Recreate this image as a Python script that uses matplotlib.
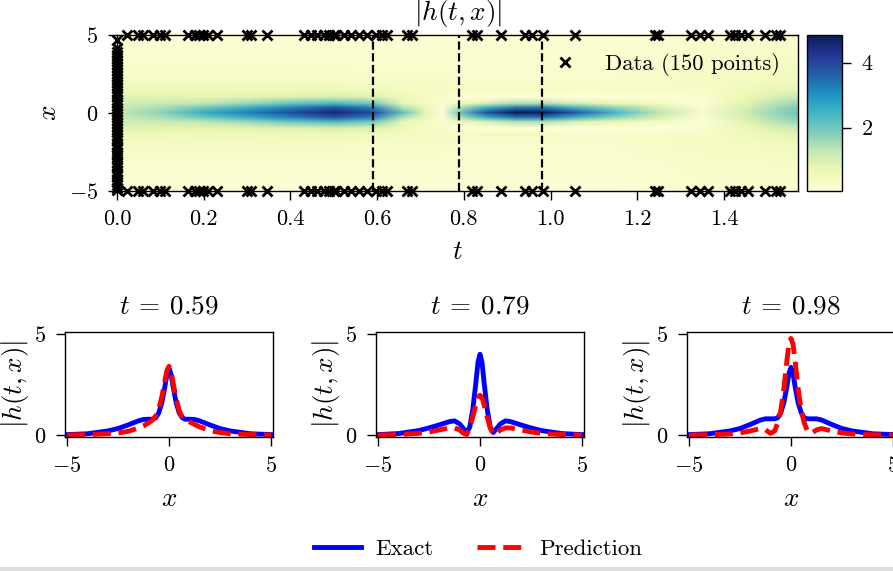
import numpy as np
import matplotlib
matplotlib.use('Agg')
import matplotlib.pyplot as plt
from matplotlib.image import NonUniformImage
from matplotlib.patches import Rectangle
from matplotlib.colors import Normalize

TICK = 16
LAB = 19.5

plt.rcParams.update({
    'font.family': 'serif',
    'font.serif': ['cmr10'],
    'mathtext.fontset': 'cm',
    'axes.formatter.use_mathtext': True,
    'axes.unicode_minus': True,
    'axes.linewidth': 1.0,
    'xtick.labelsize': TICK,
    'ytick.labelsize': TICK,
    'xtick.major.size': 6.5,
    'ytick.major.size': 6.5,
    'xtick.major.width': 1.0,
    'ytick.major.width': 1.0,
    'xtick.major.pad': 7.0,
    'ytick.major.pad': 7.0,
})

# ---------------- data ----------------
# heat map |h(t,x)| (prediction), read on a coarse grid
t_nodes = [0.0, 0.1, 0.2, 0.3, 0.4, 0.5, 0.59, 0.66, 0.71, 0.75, 0.79, 0.85,
           0.92, 0.98, 1.05, 1.15, 1.25, 1.35, 1.45, 1.5708]
x_nodes = [-5, -3, -2, -1.4, -1, -0.6, -0.3, 0, 0.3, 0.6, 1, 1.4, 2, 3, 5]
h_grid = [
    [0.10, 0.20, 0.35, 0.60, 0.85, 1.05, 1.20, 1.25, 1.20, 1.05, 0.85, 0.60, 0.35, 0.20, 0.10],
    [0.10, 0.20, 0.35, 0.55, 0.80, 1.15, 1.50, 1.70, 1.50, 1.15, 0.80, 0.55, 0.35, 0.20, 0.10],
    [0.10, 0.20, 0.35, 0.50, 0.75, 1.30, 2.00, 2.60, 2.00, 1.30, 0.75, 0.50, 0.35, 0.20, 0.10],
    [0.10, 0.20, 0.35, 0.50, 0.80, 1.60, 2.60, 3.20, 2.60, 1.60, 0.80, 0.50, 0.35, 0.20, 0.10],
    [0.10, 0.20, 0.35, 0.55, 0.90, 2.00, 3.20, 3.90, 3.20, 2.00, 0.90, 0.55, 0.35, 0.20, 0.10],
    [0.10, 0.20, 0.35, 0.55, 1.00, 2.30, 3.80, 4.50, 3.80, 2.30, 1.00, 0.55, 0.35, 0.20, 0.10],
    [0.10, 0.20, 0.30, 0.50, 0.90, 1.90, 3.20, 3.90, 3.20, 1.90, 0.90, 0.50, 0.30, 0.20, 0.10],
    [0.10, 0.20, 0.30, 0.40, 0.50, 0.70, 1.40, 2.10, 1.40, 0.70, 0.50, 0.40, 0.30, 0.20, 0.10],
    [0.10, 0.20, 0.30, 0.35, 0.40, 0.40, 0.60, 0.80, 0.60, 0.40, 0.40, 0.35, 0.30, 0.20, 0.10],
    [0.10, 0.20, 0.30, 0.35, 0.30, 0.15, 0.10, 0.10, 0.10, 0.15, 0.30, 0.35, 0.30, 0.20, 0.10],
    [0.10, 0.20, 0.25, 0.35, 0.10, 0.50, 1.50, 2.00, 1.50, 0.50, 0.10, 0.35, 0.25, 0.20, 0.10],
    [0.10, 0.20, 0.25, 0.35, 0.05, 0.90, 2.60, 3.80, 2.60, 0.90, 0.05, 0.35, 0.25, 0.20, 0.10],
    [0.10, 0.20, 0.25, 0.35, 0.05, 1.40, 3.40, 4.80, 3.40, 1.40, 0.05, 0.35, 0.25, 0.20, 0.10],
    [0.10, 0.20, 0.25, 0.35, 0.05, 1.40, 3.40, 4.80, 3.40, 1.40, 0.05, 0.35, 0.25, 0.20, 0.10],
    [0.10, 0.20, 0.25, 0.30, 0.05, 1.00, 2.60, 3.80, 2.60, 1.00, 0.05, 0.30, 0.25, 0.20, 0.10],
    [0.10, 0.20, 0.25, 0.30, 0.10, 0.60, 1.70, 2.40, 1.70, 0.60, 0.10, 0.30, 0.25, 0.20, 0.10],
    [0.15, 0.25, 0.30, 0.30, 0.10, 0.40, 1.00, 1.30, 1.00, 0.40, 0.10, 0.30, 0.30, 0.25, 0.15],
    [0.20, 0.30, 0.35, 0.30, 0.20, 0.10, 0.20, 0.30, 0.20, 0.10, 0.20, 0.30, 0.35, 0.30, 0.20],
    [0.20, 0.30, 0.40, 0.50, 0.60, 0.80, 1.00, 1.10, 1.00, 0.80, 0.60, 0.50, 0.40, 0.30, 0.20],
    [0.20, 0.35, 0.50, 0.80, 1.20, 1.60, 1.90, 2.00, 1.90, 1.60, 1.20, 0.80, 0.50, 0.35, 0.20],
]

# training data: initial points (t=0) and boundary times (x=-5 and x=5)
x0_points = [-4.96, -4.80, -4.61, -4.42, -4.27, -4.05, -3.88, -3.70, -3.49, -3.31,
             -3.12, -2.95, -2.71, -2.55, -2.33, -2.17, -1.98, -1.76, -1.60, -1.41,
             -1.22, -1.05, -0.83, -0.66, -0.47, -0.28, -0.09, 0.12, 0.31, 0.50,
             0.69, 0.86, 1.07, 1.25, 1.44, 1.63, 1.82, 2.01, 2.19, 2.40,
             2.58, 2.77, 2.96, 3.15, 3.36, 3.54, 3.73, 3.92, 4.18, 4.71]
tb_points = [0.022, 0.048, 0.060, 0.083, 0.099, 0.110, 0.163, 0.180, 0.190, 0.198,
             0.210, 0.230, 0.300, 0.310, 0.345, 0.432, 0.448, 0.462, 0.478, 0.490,
             0.500, 0.505, 0.524, 0.540, 0.559, 0.577, 0.597, 0.612, 0.623, 0.669,
             0.680, 0.818, 0.830, 0.885, 0.942, 0.957, 0.983, 1.057, 1.241, 1.248,
             1.325, 1.345, 1.363, 1.413, 1.425, 1.440, 1.455, 1.494, 1.520, 1.530]

t_slices = [0.59, 0.79, 0.98]
slice_labels = ['0.59', '0.79', '0.98']

# slice profiles
x_line = [-5, -4, -3, -2.5, -2, -1.5, -1.25, -1, -0.8, -0.65, -0.5, -0.35, -0.2, -0.1, 0,
          0.1, 0.2, 0.35, 0.5, 0.65, 0.8, 1, 1.25, 1.5, 2, 2.5, 3, 4, 5]
exact_059 = [0.02, 0.06, 0.20, 0.32, 0.50, 0.70, 0.77, 0.78, 0.78, 0.85, 1.10, 1.60, 2.40, 3.00, 3.30,
             3.00, 2.40, 1.60, 1.10, 0.85, 0.78, 0.78, 0.77, 0.70, 0.50, 0.32, 0.20, 0.06, 0.02]
pred_059 = [0.00, 0.02, 0.06, 0.10, 0.18, 0.35, 0.45, 0.60, 0.75, 0.95, 1.30, 1.90, 2.70, 3.20, 3.40,
            3.20, 2.60, 1.80, 1.20, 0.90, 0.75, 0.65, 0.52, 0.40, 0.22, 0.12, 0.06, 0.02, 0.00]
exact_079 = [0.02, 0.07, 0.22, 0.35, 0.50, 0.66, 0.70, 0.55, 0.30, 0.12, 0.40, 1.30, 2.60, 3.60, 4.00,
             3.60, 2.60, 1.30, 0.40, 0.12, 0.30, 0.55, 0.70, 0.66, 0.50, 0.35, 0.22, 0.07, 0.02]
pred_079 = [0.00, 0.02, 0.08, 0.15, 0.25, 0.35, 0.35, 0.25, 0.08, 0.02, 0.35, 0.90, 1.50, 1.85, 1.97,
            1.85, 1.50, 0.90, 0.35, 0.02, 0.08, 0.25, 0.35, 0.35, 0.25, 0.15, 0.08, 0.02, 0.00]
exact_098 = [0.02, 0.06, 0.20, 0.32, 0.52, 0.74, 0.80, 0.80, 0.80, 0.85, 1.10, 1.60, 2.40, 3.05, 3.35,
             3.05, 2.40, 1.60, 1.10, 0.85, 0.80, 0.80, 0.80, 0.74, 0.52, 0.32, 0.20, 0.06, 0.02]
pred_098 = [0.00, 0.01, 0.05, 0.10, 0.20, 0.32, 0.25, 0.08, 0.20, 0.60, 1.20, 2.30, 3.70, 4.50, 4.78,
            4.50, 3.70, 2.30, 1.20, 0.60, 0.20, 0.08, 0.25, 0.32, 0.20, 0.10, 0.05, 0.01, 0.00]
exact_profiles = [exact_059, exact_079, exact_098]
pred_profiles = [pred_059, pred_079, pred_098]

# ---------------- figure ----------------
W, H = 893, 571
fig = plt.figure(figsize=(W / 100, H / 100), dpi=100)


def fax(l, t, r, b):
    return [l / W, 1 - b / H, (r - l) / W, (b - t) / H]


ax = fig.add_axes(fax(117, 35, 798, 191))
norm = Normalize(vmin=0.05, vmax=4.85)
im = NonUniformImage(ax, interpolation='bilinear', extent=(0, t_nodes[-1], -5, 5),
                     cmap='YlGnBu', norm=norm)
im.set_data(np.array(t_nodes), np.array(x_nodes, dtype=float), np.array(h_grid).T)
ax.add_image(im)
ax.set_xlim(0, t_nodes[-1])
ax.set_ylim(-5, 5)

t_data = [0.0] * len(x0_points) + tb_points + tb_points
x_data = x0_points + [-5.0] * len(tb_points) + [5.0] * len(tb_points)
ax.plot(t_data, x_data, 'kx', markersize=7.5, markeredgewidth=2.0, clip_on=False,
        label='Data (%d points)' % len(t_data), zorder=5)
for ts in t_slices:
    ax.plot([ts, ts], [-5, 5], 'k--', linewidth=1.6)
ax.set_xticks([0.0, 0.2, 0.4, 0.6, 0.8, 1.0, 1.2, 1.4])
ax.set_xticklabels(['0.0', '0.2', '0.4', '0.6', '0.8', '1.0', '1.2', '1.4'])
ax.set_yticks([-5, 0, 5])
ax.set_xlabel('$t$', fontsize=LAB, labelpad=8)
ax.set_ylabel('$x$', fontsize=LAB, labelpad=6)
ax.set_title('$|h(t,x)|$', fontsize=LAB, y=1.0, pad=11)
leg = ax.legend(frameon=False, loc='upper right', fontsize=16.3, handlelength=1.5,
                handletextpad=1.0, borderaxespad=0.4)

cax = fig.add_axes(fax(807, 35, 842, 191))
cb = fig.colorbar(im, cax=cax)
cb.set_ticks([2, 4])
cb.ax.tick_params(labelsize=TICK)
cb.outline.set_linewidth(1.0)

lefts = [65, 376, 687]
handles = None
for i in range(3):
    a = fig.add_axes(fax(lefts[i], 332, lefts[i] + 208, 437))
    l1, = a.plot(x_line, exact_profiles[i], 'b-', linewidth=3.5, label='Exact')
    l2, = a.plot(x_line, pred_profiles[i], 'r--', linewidth=3.5, label='Prediction')
    a.set_xlim(-5.1, 5.1)
    a.set_ylim(-0.1, 5.1)
    a.set_xticks([-5, 0, 5])
    a.set_yticks([0, 5])
    a.set_xlabel('$x$', fontsize=LAB, labelpad=8)
    a.set_ylabel('$|h(t,x)|$', fontsize=LAB, labelpad=2)
    a.set_title(r'$t\:=\:%s$' % slice_labels[i], fontsize=LAB, pad=13)
    handles = [l1, l2]

fig.legend(handles=handles, loc='center', bbox_to_anchor=(478 / W, 1 - 549 / H),
           ncol=2, frameon=False, fontsize=16.5, handlelength=2.05, handletextpad=0.65,
           columnspacing=1.9)

fig.patches.append(Rectangle((0, 0), 1, 4 / H, transform=fig.transFigure,
                             facecolor='#dedede', edgecolor='none'))

fig.savefig('out.png', dpi=100)
